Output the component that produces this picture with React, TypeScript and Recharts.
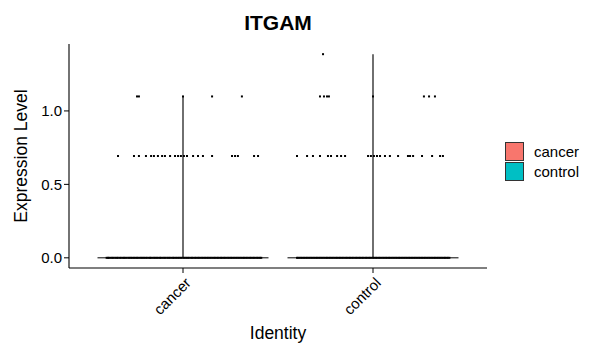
import React from "react";
import { ComposedChart, Scatter, XAxis, YAxis, ReferenceLine } from "recharts";

// identities on the x axis and gene level per identity
const categories = ["cancer", "control"];
const colors = ["#F8766D", "#00BFC4"];
const violinMax = [1.0986, 1.3863];
const yTicks = [0, 0.5, 1];

// expression levels that show up in the data (log1p of counts 0..3)
const level0 = 0;
const level1 = 0.6931;
const level2 = 1.0986;
const level3 = 1.3863;

// jitter offsets (category units)
const cancerAt0 = [
  -0.402, -0.395, -0.389, -0.38, -0.372, -0.366, -0.357, -0.349, -0.343, -0.334, -0.327, -0.318,
  -0.311, -0.304, -0.296, -0.287, -0.281, -0.273, -0.266, -0.258, -0.25, -0.243, -0.236, -0.227,
  -0.219, -0.213, -0.205, -0.197, -0.19, -0.181, -0.174, -0.168, -0.159, -0.151, -0.145, -0.137,
  -0.129, -0.121, -0.115, -0.106, -0.098, -0.092, -0.083, -0.076, -0.069, -0.06, -0.052, -0.046,
  -0.037, -0.029, -0.022, -0.014, -0.007, 0.002, 0.009, 0.017, 0.024, 0.031, 0.04, 0.047, 0.054,
  0.063, 0.07, 0.078, 0.085, 0.093, 0.101, 0.108, 0.116, 0.124, 0.131, 0.139, 0.146, 0.154, 0.162,
  0.169, 0.177, 0.184, 0.192, 0.2, 0.207, 0.215, 0.222, 0.23, 0.238, 0.245, 0.253, 0.26, 0.268,
  0.276, 0.283, 0.291, 0.298, 0.306, 0.314, 0.321, 0.329, 0.336, 0.344, 0.352, 0.359, 0.367, 0.374,
  0.382, 0.39, 0.397, 0.405, 0.412,
];
const cancerAt1 = [
  -0.342, -0.258, -0.232, -0.195, -0.168, -0.153, -0.132, -0.11, -0.095, -0.068, -0.042, -0.026,
  -0.011, 0.005, 0.021, 0.053, 0.079, 0.105, 0.153, 0.258, 0.274, 0.289, 0.374, 0.395,
];
const cancerAt2 = [-0.242, -0.232, 0, 0.153, 0.31];

const controlAt0 = [
  -0.4, -0.393, -0.386, -0.378, -0.371, -0.363, -0.355, -0.348, -0.34, -0.333, -0.325, -0.318,
  -0.31, -0.302, -0.295, -0.287, -0.28, -0.272, -0.265, -0.257, -0.249, -0.242, -0.234, -0.227,
  -0.219, -0.212, -0.204, -0.196, -0.189, -0.181, -0.174, -0.166, -0.159, -0.151, -0.143, -0.136,
  -0.128, -0.121, -0.113, -0.106, -0.098, -0.09, -0.083, -0.075, -0.068, -0.06, -0.053, -0.045,
  -0.037, -0.03, -0.022, -0.015, -0.007, 0.001, 0.008, 0.016, 0.023, 0.031, 0.038, 0.046, 0.054,
  0.061, 0.069, 0.076, 0.084, 0.091, 0.099, 0.107, 0.114, 0.122, 0.129, 0.137, 0.144, 0.152, 0.16,
  0.167, 0.175, 0.182, 0.19, 0.197, 0.205, 0.213, 0.22, 0.228, 0.235, 0.243, 0.25, 0.258, 0.266,
  0.273, 0.281, 0.288, 0.296, 0.303, 0.311, 0.319, 0.326, 0.334, 0.341, 0.349, 0.356, 0.364, 0.372,
  0.379, 0.387, 0.394, 0.402,
];
const controlAt1 = [
  -0.4, -0.347, -0.316, -0.279, -0.237, -0.221, -0.189, -0.168, -0.147, -0.026, -0.011, 0.005,
  0.021, 0.037, 0.063, 0.089, 0.132, 0.184, 0.195, 0.211, 0.258, 0.311, 0.353, 0.368,
];
const controlAt2 = [-0.279, -0.258, -0.242, -0.232, 0, 0.268, 0.295, 0.326];
const controlAt3 = [-0.263];

const groups = [
  [
    { level: level0, offsets: cancerAt0 },
    { level: level1, offsets: cancerAt1 },
    { level: level2, offsets: cancerAt2 },
  ],
  [
    { level: level0, offsets: controlAt0 },
    { level: level1, offsets: controlAt1 },
    { level: level2, offsets: controlAt2 },
    { level: level3, offsets: controlAt3 },
  ],
];

const points = groups.flatMap((rows, gi) =>
  rows.flatMap((r) => r.offsets.map((o) => ({ x: gi + 1 + o, y: r.level })))
);

const font = "'Liberation Sans', Arial, sans-serif";

const Dot = (props: any) => {
  const { cx, cy } = props;
  if (cx == null || cy == null) return null;
  return <rect x={cx - 1} y={cy - 1} width={2} height={2} fill="#000" />;
};

const XTick = (props: any) => {
  const { x, y, payload } = props;
  return (
    <text
      x={x + 5}
      y={y + 5}
      transform={`rotate(-45, ${x + 5}, ${y + 5})`}
      textAnchor="end"
      dominantBaseline="central"
      fontSize={15}
      fontFamily={font}
      fill="#000"
    >
      {categories[payload.value - 1]}
    </text>
  );
};

export default function App() {
  return (
    <div style={{ position: "absolute", left: 0, top: 0, width: 599, height: 360, background: "#fff" }}>
      <div
        style={{
          position: "absolute",
          left: 69,
          width: 418,
          top: 11,
          textAlign: "center",
          fontFamily: font,
          fontWeight: "bold",
          fontSize: 21,
          color: "#000",
        }}
      >
        ITGAM
      </div>
      <ComposedChart width={599} height={360} margin={{ top: 44, right: 112, bottom: 0, left: 0 }}>
        <XAxis
          type="number"
          dataKey="x"
          domain={[0.4, 2.6]}
          ticks={[1, 2]}
          allowDataOverflow
          height={92}
          axisLine={{ stroke: "#000", strokeWidth: 1.1 }}
          tickLine={{ stroke: "#000" }}
          tickSize={5}
          tick={<XTick />}
          label={{
            value: "Identity",
            position: "insideBottom",
            offset: 21,
            style: { fontFamily: font, fontSize: 17.5, fill: "#000" },
          }}
        />
        <YAxis
          type="number"
          dataKey="y"
          domain={[-0.0693, 1.4556]}
          ticks={yTicks}
          allowDataOverflow
          width={69}
          axisLine={{ stroke: "#000", strokeWidth: 1.1 }}
          tickLine={{ stroke: "#000" }}
          tickSize={5}
          tickFormatter={(v: number) => v.toFixed(1)}
          tick={{ fontSize: 15, fontFamily: font, fill: "#000" }}
          label={{
            value: "Expression Level",
            angle: -90,
            position: "insideLeft",
            offset: 21,
            style: { fontFamily: font, fontSize: 17.5, fill: "#000", textAnchor: "middle" },
          }}
        />
        {categories.map((c, i) => (
          <ReferenceLine
            key={c + "-base"}
            segment={[
              { x: i + 1 - 0.45, y: 0 },
              { x: i + 1 + 0.45, y: 0 },
            ]}
            stroke="#000"
            strokeWidth={1}
          />
        ))}
        {categories.map((c, i) => (
          <ReferenceLine
            key={c + "-stem"}
            segment={[
              { x: i + 1, y: 0 },
              { x: i + 1, y: violinMax[i] },
            ]}
            stroke="#222"
            strokeWidth={1.3}
          />
        ))}
        <Scatter data={points} shape={<Dot />} isAnimationActive={false} />
      </ComposedChart>
      {categories.map((c, i) => (
        <div key={c}>
          <div
            style={{
              position: "absolute",
              left: 505,
              top: 142 + i * 20,
              width: 17,
              height: 17,
              background: colors[i],
              border: "1px solid #333",
            }}
          />
          <div
            style={{
              position: "absolute",
              left: 534,
              top: 142 + i * 20,
              height: 19,
              lineHeight: "19px",
              fontFamily: font,
              fontSize: 15,
              color: "#000",
            }}
          >
            {c}
          </div>
        </div>
      ))}
    </div>
  );
}
